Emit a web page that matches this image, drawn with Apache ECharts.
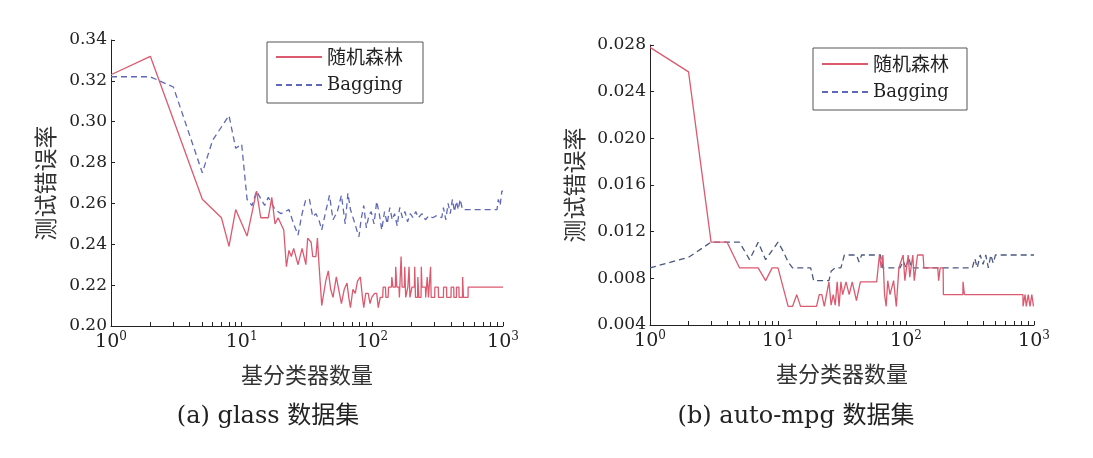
<!DOCTYPE html>
<html><head><meta charset="utf-8">
<script src="https://cdn.jsdelivr.net/npm/echarts@6/dist/echarts.min.js"></script>
<style>html,body{margin:0;padding:0;background:#fff}#c{width:1093px;height:458px}</style>
</head><body><div id="c"></div>
<script>
// ---------- data ----------
const seriesNames = ['随机森林', 'Bagging'];
const xLabelValues = [1, 10, 100, 1000];
const xTickValues = [1,2,3,4,5,6,7,8,9,10,20,30,40,50,60,70,80,90,100,200,300,400,500,600,700,800,900,1000];

// glass dataset
const glassRfN = [1,2,5,7,8,9,11,13,14,16,17,18,19,21,22,23,24,25,27,29,31,32,34,35,37,38,39,41,44,46,48,50,53,56,58,61,64,66,68,71,74,77,81,84,86,89,93,96,99,104,108,111,115,120,121,126,127,132,133,140,141,143,144,150,151,153,154,160,161,165,166,168,169,176,177,179,180,186,187,190,191,193,194,200,201,210,211,213,214,222,223,226,227,236,237,239,240,255,256,262,263,268,269,278,279,281,282,300,301,320,321,350,351,370,371,400,401,420,421,440,441,460,461,490,491,497,498,540,541,1000];
const glassRfErr = [0.323,0.332,0.262,0.253,0.239,0.257,0.244,0.266,0.253,0.253,0.263,0.250,0.253,0.247,0.229,0.237,0.234,0.238,0.230,0.238,0.230,0.243,0.241,0.234,0.234,0.243,0.231,0.210,0.222,0.227,0.218,0.214,0.224,0.216,0.211,0.218,0.221,0.214,0.209,0.218,0.216,0.222,0.224,0.214,0.209,0.216,0.216,0.211,0.214,0.216,0.216,0.209,0.214,0.214,0.219,0.219,0.214,0.214,0.219,0.219,0.224,0.224,0.219,0.219,0.229,0.229,0.219,0.219,0.214,0.214,0.234,0.234,0.219,0.219,0.229,0.229,0.214,0.214,0.219,0.219,0.229,0.229,0.214,0.214,0.219,0.219,0.229,0.229,0.214,0.214,0.224,0.224,0.214,0.214,0.229,0.229,0.219,0.219,0.214,0.214,0.224,0.224,0.214,0.214,0.229,0.229,0.214,0.214,0.219,0.219,0.214,0.214,0.219,0.219,0.214,0.214,0.219,0.219,0.214,0.214,0.219,0.219,0.214,0.214,0.224,0.224,0.214,0.214,0.219,0.219];
const glassBagN = [1,2,3,5,6,8,9,10,11,12,13,15,16,18,20,23,25,27,29,31,33,35,37,39,41,44,47,50,54,58,62,65,68,72,76,79,82,86,90,94,98,103,108,113,118,124,130,136,142,148,155,162,170,178,186,195,205,215,225,240,255,270,290,310,340,350,365,380,395,410,425,440,455,470,490,900,920,950,980,1000];
const glassBagErr = [0.322,0.322,0.317,0.275,0.291,0.303,0.287,0.289,0.262,0.259,0.266,0.259,0.263,0.257,0.255,0.257,0.250,0.2445,0.255,0.262,0.262,0.2535,0.255,0.252,0.247,0.256,0.264,0.252,0.256,0.264,0.250,0.265,0.257,0.252,0.247,0.2437,0.252,0.259,0.248,0.254,0.256,0.250,0.261,0.255,0.247,0.256,0.250,0.258,0.252,0.255,0.249,0.258,0.253,0.256,0.251,0.255,0.253,0.256,0.253,0.255,0.252,0.254,0.253,0.254,0.253,0.258,0.252,0.260,0.255,0.262,0.256,0.261,0.257,0.262,0.257,0.257,0.262,0.259,0.266,0.266];

// auto-mpg dataset
const autoRfN = [1,2,3,4,5,7,8,9,10,12,13,14,15,20,21,22,23,25,26,27,28,29,30,31,32,34,36,38,41,44,59,62,64,66,68,70,72,75,80,84,88,90,95,98,104,107,113,116,123,136,138,177,180,185,195,196,278,279,285,286,820,821,850,851,870,871,900,901,930,931,960,961,990,991,1000];
const autoRfErr = [0.0278,0.0257,0.0111,0.0111,0.0089,0.0089,0.0078,0.0089,0.0089,0.0056,0.0056,0.0066,0.0056,0.0056,0.0066,0.0066,0.0056,0.0077,0.0057,0.0066,0.0057,0.0077,0.0056,0.0077,0.0066,0.0077,0.0066,0.0077,0.0061,0.0077,0.0077,0.0100,0.0089,0.0100,0.0066,0.0056,0.0078,0.0066,0.0078,0.0056,0.0089,0.0089,0.0100,0.0078,0.0100,0.0081,0.0100,0.0078,0.0100,0.0100,0.0089,0.0089,0.0078,0.0089,0.0089,0.0066,0.0066,0.0077,0.0077,0.0066,0.0066,0.0056,0.0056,0.0066,0.0066,0.0056,0.0056,0.0066,0.0066,0.0056,0.0056,0.0066,0.0066,0.0056,0.0056];
const autoBagN = [1,2,3,5,6,7,8,10,11,12,13,18,19,25,26,28,31,33,41,43,45,63,66,90,95,100,105,110,330,345,360,380,400,420,440,460,480,500,1000];
const autoBagErr = [0.0089,0.0098,0.0111,0.0111,0.0096,0.0111,0.0096,0.0111,0.0103,0.0094,0.0089,0.0089,0.0078,0.0078,0.0086,0.0089,0.0089,0.0100,0.0100,0.0094,0.0100,0.0100,0.0089,0.0089,0.0095,0.0089,0.0098,0.0089,0.0089,0.0097,0.0089,0.0100,0.0092,0.0100,0.0089,0.0100,0.0093,0.0100,0.0100];

// ---------- chart ----------
const zip = (a, b) => a.map((v, i) => [v, b[i]]);
const LAT = "'DejaVu Serif', 'Noto Sans CJK SC', serif";
const CJK = "'Noto Sans CJK SC', sans-serif";
const RED = '#dc5a70', BLUE_L = '#5f68b8', BLUE_R = '#4a587e';

function xAxisDef(gridIndex) {
  return {
    type: 'log', logBase: 10, min: 1, max: 1000, gridIndex,
    name: '基分类器数量', nameLocation: 'middle', nameGap: 38,
    nameTextStyle: { fontFamily: CJK, fontSize: 22, color: '#333' },
    axisLine: { lineStyle: { color: '#222', width: 1 } },
    axisTick: { inside: true, length: 4, customValues: xTickValues, lineStyle: { color: '#222' } },
    splitLine: { show: false },
    axisLabel: {
      customValues: xLabelValues, margin: 5,
      formatter: v => '{b|10}{s|' + Math.round(Math.log10(v)) + '}',
      rich: {
        b: { fontFamily: LAT, fontSize: 19, color: '#222' },
        s: { fontFamily: LAT, fontSize: 12, color: '#222', padding: [0, 0, 10, 0] }
      }
    }
  };
}
function yAxisDef(gridIndex, min, max, interval, digits, gap) {
  return {
    type: 'value', gridIndex, min, max, interval,
    name: '测试错误率', nameLocation: 'middle', nameGap: gap,
    nameTextStyle: { fontFamily: CJK, fontSize: 23, color: '#333' },
    axisLine: { show: true, lineStyle: { color: '#222', width: 1 } },
    axisTick: { show: true, inside: true, length: 4, lineStyle: { color: '#222' } },
    splitLine: { show: false },
    axisLabel: { fontFamily: LAT, fontSize: 17, color: '#222', margin: 4,
      formatter: v => v.toFixed(digits) }
  };
}
function legendDef(left, top, padding) {
  return {
    left, top, orient: 'vertical', data: seriesNames,
    itemWidth: 46, itemHeight: 14, itemGap: 8,
    itemStyle: { opacity: 0 },
    padding, borderColor: '#555', borderWidth: 1, backgroundColor: '#fff',
    formatter: n => n === 'Bagging' ? '{l|' + n + '}' : '{c|' + n + '}',
    textStyle: {
      color: '#222', lineHeight: 20,
      rich: {
        l: { fontFamily: LAT, fontSize: 18, color: '#222', lineHeight: 20 },
        c: { fontFamily: CJK, fontSize: 19, color: '#222', lineHeight: 20 }
      }
    }
  };
}
function line(name, data, xi, color, dashed) {
  return {
    type: 'line', name, data, xAxisIndex: xi, yAxisIndex: xi,
    symbol: 'none', showSymbol: false, animation: false, z: dashed ? 2 : 3,
    lineStyle: { color, width: 1.3, type: dashed ? [6, 4] : 'solid' },
    itemStyle: { color }
  };
}

const chart = echarts.init(document.getElementById('c'), null, { renderer: 'canvas' });
chart.setOption({
  animation: false,
  backgroundColor: '#fff',
  grid: [
    { left: 111, top: 40, width: 392, height: 286, containLabel: false, outerBoundsMode: 'none' },
    { left: 650, top: 45, width: 384, height: 280, containLabel: false, outerBoundsMode: 'none' }
  ],
  xAxis: [xAxisDef(0), xAxisDef(1)],
  yAxis: [yAxisDef(0, 0.20, 0.34, 0.02, 2, 54), yAxisDef(1, 0.004, 0.028, 0.004, 3, 64)],
  legend: [legendDef(267, 42, [5, 20, 8, 8]), legendDef(813, 48, [6, 18, 8, 8])],
  series: [
    line('随机森林', zip(glassRfN, glassRfErr), 0, RED, false),
    line('Bagging', zip(glassBagN, glassBagErr), 0, BLUE_L, true),
    line('随机森林', zip(autoRfN, autoRfErr), 1, RED, false),
    line('Bagging', zip(autoBagN, autoBagErr), 1, BLUE_R, true)
  ],
  graphic: [
    { type: 'text', x: 268, y: 417, style: { text: '(a) glass 数据集', font: "24px 'DejaVu Serif', 'Noto Sans CJK SC'", fill: '#222', textAlign: 'center', textVerticalAlign: 'middle' } },
    { type: 'text', x: 796, y: 417, style: { text: '(b) auto-mpg 数据集', font: "24px 'DejaVu Serif', 'Noto Sans CJK SC'", fill: '#222', textAlign: 'center', textVerticalAlign: 'middle' } }
  ]
});
</script>
</body></html>
